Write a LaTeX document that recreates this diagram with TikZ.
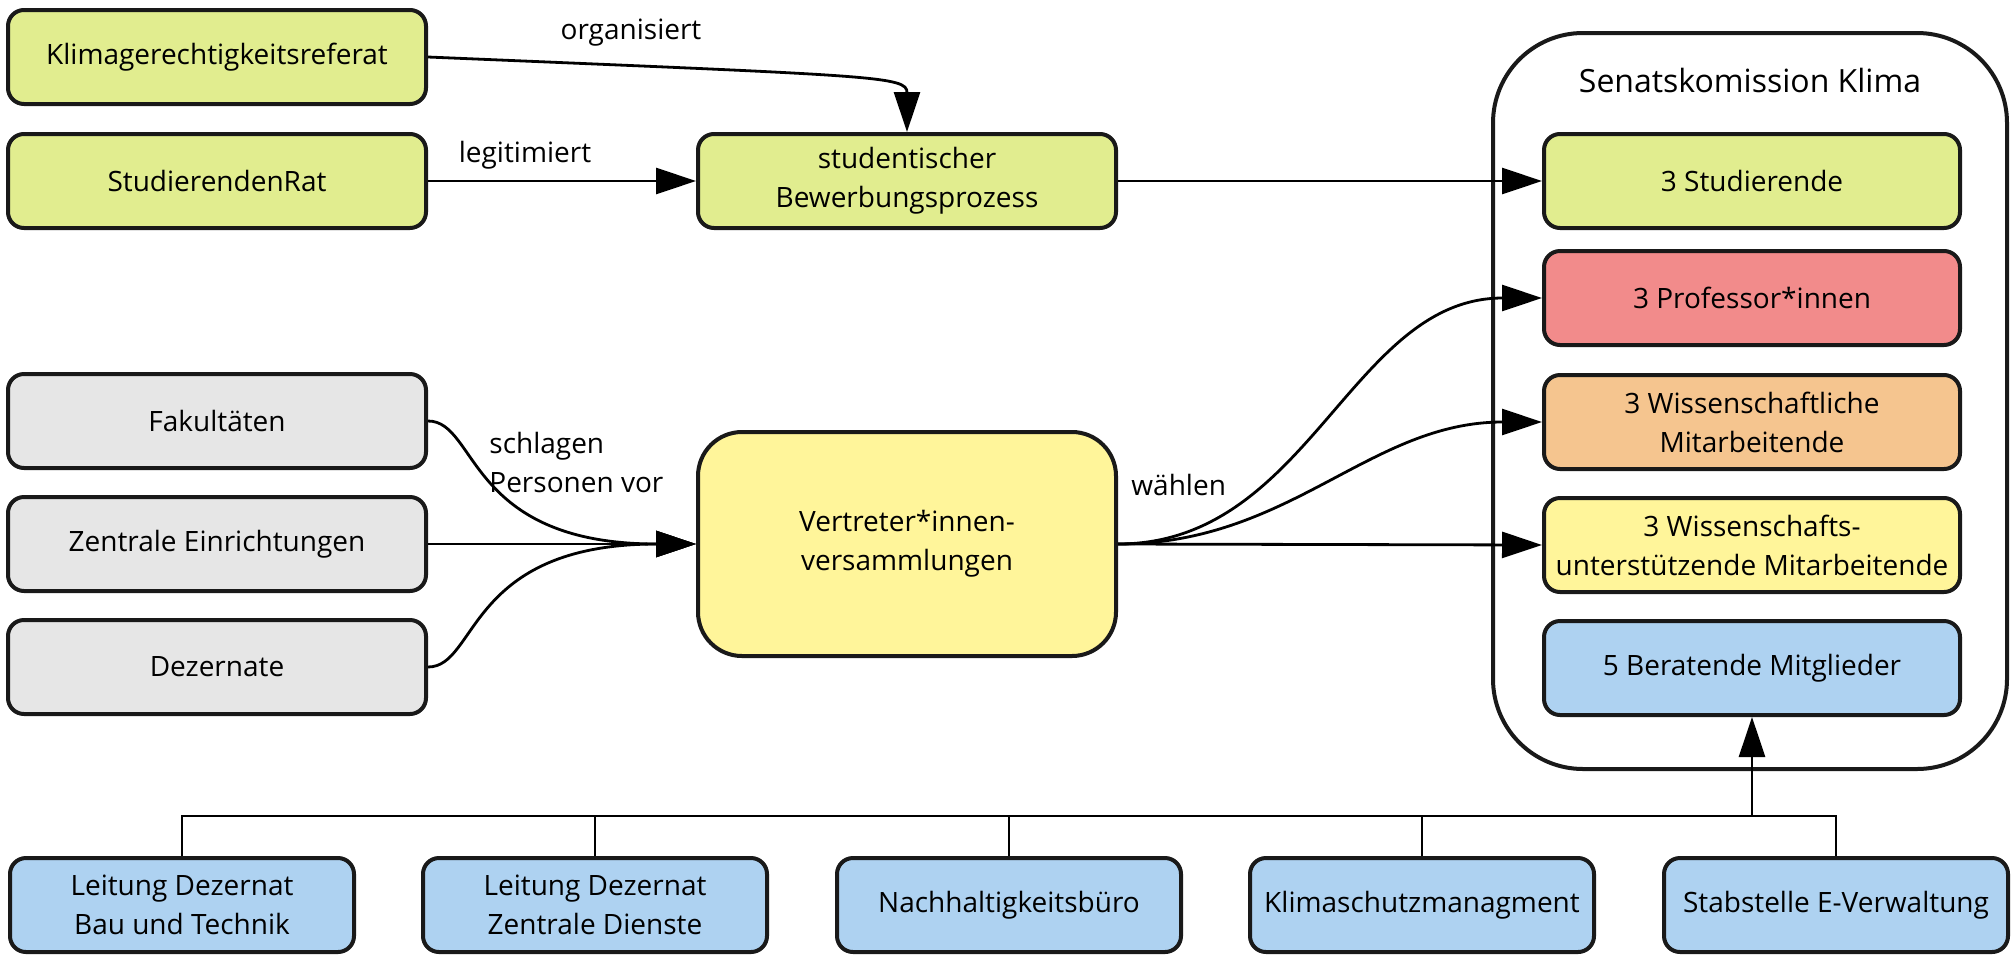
\documentclass[tikz,border=0pt]{standalone}
\usepackage{fontspec}
\setmainfont{Open Sans}
\usetikzlibrary{positioning,arrows.meta}

\definecolor{studgreen}{RGB}{225,237,143}
\definecolor{orggrey}{RGB}{230,230,230}
\definecolor{vvyellow}{RGB}{255,245,154}
\definecolor{profred}{RGB}{242,139,139}
\definecolor{wmorange}{RGB}{245,197,143}
\definecolor{advblue}{RGB}{174,210,241}

\begin{document}
\begin{tikzpicture}[x=0.5pt,y=-0.5pt,
    every node/.style={font=\fontsize{14}{19.5}\selectfont},
    box/.style={draw=black!90,line width=2pt,rounded corners=8pt,align=center,
      minimum width=209pt,minimum height=47pt,inner sep=2pt},
    member/.style={box,minimum width=208pt},
    office/.style={box,minimum width=172pt},
    arr/.style={-{Triangle[length=20pt,width=13pt]},line width=1.4pt},
    lbl/.style={inner sep=0pt}]

    \useasboundingbox (0,0) rectangle (2013,954);

    % students
    \node[box,fill=studgreen] (klima) at (217,57) {Klimagerechtigkeitsreferat};
    \node[box,fill=studgreen] (strat) at (217,181) {StudierendenRat};
    \node[box,fill=studgreen] (bewerb) at (907,181) {studentischer\\Bewerbungsprozess};

    % staff groups
    \node[box,fill=orggrey] (fak) at (217,421) {Fakultäten};
    \node[box,fill=orggrey] (zen) at (217,544) {Zentrale Einrichtungen};
    \node[box,fill=orggrey] (dez) at (217,667) {Dezernate};
    \node[box,fill=vvyellow,minimum height=112pt,rounded corners=22pt] (vv)
        at (907,544) {Vertreter*innen-\\versammlungen};

    % commission
    \node[draw=black!90,line width=2pt,rounded corners=45pt,
          minimum width=257pt,minimum height=368pt] (senat) at (1750,401) {};
    \node[font=\fontsize{16}{19}\selectfont] (senattitle) at (1750,80) {Senatskomission Klima};
    \node[member,fill=studgreen] (mstud) at (1752,181) {3 Studierende};
    \node[member,fill=profred] (mprof) at (1752,298) {3 Professor*innen};
    \node[member,fill=wmorange] (mwm) at (1752,422) {3 Wissenschaftliche\\Mitarbeitende};
    \node[member,fill=vvyellow] (mwu) at (1752,545) {3 Wissenschafts-\\unterstützende Mitarbeitende};
    \node[member,fill=advblue] (mber) at (1752,668) {5 Beratende Mitglieder};

    % advisory offices
    \node[office,fill=advblue] (obt) at (182,905) {Leitung Dezernat\\Bau und Technik};
    \node[office,fill=advblue] (ozd) at (595,905) {Leitung Dezernat\\Zentrale Dienste};
    \node[office,fill=advblue] (onb) at (1009,905) {Nachhaltigkeitsbüro};
    \node[office,fill=advblue] (oks) at (1422,905) {Klimaschutzmanagment};
    \node[office,fill=advblue] (oev) at (1836,905) {Stabstelle E-Verwaltung};
    \coordinate (bus) at (0,816);

    % edge labels
    \node[lbl] (lorg) at (631,33) {organisiert};
    \node[lbl] (llegit) at (525,155) {legitimiert};
    \node[lbl,anchor=west,align=left] (lschlag) at (489,462) {schlagen\\Personen vor};
    \node[lbl,anchor=west] (lwahl) at (1131,485) {wählen};

    % connections
    \draw[arr] (klima.east) .. controls (880,76) and (907,76) .. (bewerb.north);
    \draw[arr] (strat) -- (bewerb);
    \draw[arr] (bewerb) -- (mstud);
    \draw[arr] (fak.east) .. controls +(50,0) and +(-230,0) .. (vv.west);
    \draw[arr] (zen) -- (vv);
    \draw[arr] (dez.east) .. controls +(50,0) and +(-230,0) .. (vv.west);
    \draw[arr] (vv.east) to[out=0,in=180] (mprof.west);
    \draw[arr] (vv.east) to[out=0,in=180] (mwm.west);
    \draw[arr] (vv.east) -- (mwu.west);

    \draw[line width=1pt] (obt.north) |- (oev.north |- bus) -- (oev.north);
    \foreach \o in {ozd,onb,oks}
      \draw[line width=1pt] (\o.north) -- (\o.north |- bus);
    \draw[arr] (mber.south |- bus) -- (mber.south);
\end{tikzpicture}
\end{document}
